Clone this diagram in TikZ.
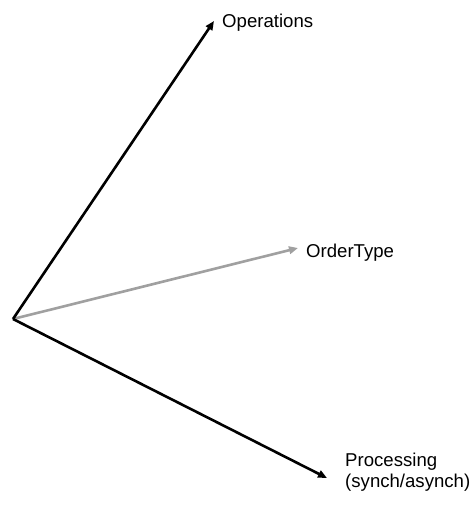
\documentclass[tikz,border=0pt]{standalone}
\usepackage{fontspec}
\setmainfont{Liberation Sans}
\usetikzlibrary{arrows.meta}
\begin{document}
\begin{tikzpicture}[x=1pt,y=-1pt,
  conn/.style={line width=2.6pt,-{Triangle[length=9pt,width=7.5pt]}},
  lbl/.style={inner sep=0pt,anchor=base west,align=left,font=\fontsize{18.6}{20.5}\selectfont}]
\useasboundingbox (0,0) rectangle (472,516);
\coordinate (o) at (13,319);
\coordinate (t1) at (214,21);
\coordinate (t2) at (298,248);
\coordinate (t3) at (327,478);
\node[lbl] (ops) at (222,28) {Operations};
\node[lbl] (ot) at (306,257) {OrderType};
\node[lbl] (proc) at (345,487) {Processing\\(synch/asynch)};
\draw[conn,color={rgb,255:red,160;green,160;blue,160}] (o) -- (t2);
\draw[conn] (o) -- (t1);
\draw[conn] (o) -- (t3);
\end{tikzpicture}
\end{document}
